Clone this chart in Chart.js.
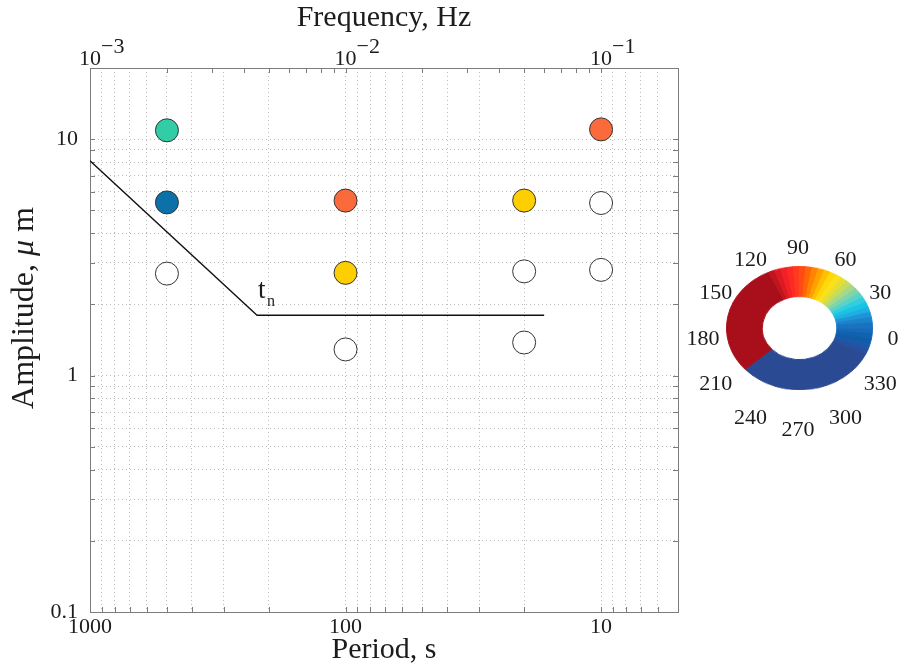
<!DOCTYPE html>
<html><head><meta charset="utf-8">
<script src="https://cdn.jsdelivr.net/npm/chart.js@4.4.1/dist/chart.umd.min.js"></script>
<style>
html,body{margin:0;padding:0;background:#fff;}
#wrap{position:relative;width:901px;height:668px;overflow:hidden;}
#main{position:absolute;left:0;top:0;}
#wheelBox{position:absolute;left:726px;top:266px;width:147px;height:147px;transform:scaleY(0.845);transform-origin:0 0;}
</style></head><body>
<div id="wrap">
<canvas id="main" width="901" height="668"></canvas>
<div id="wheelBox"><canvas id="wheel" width="147" height="147"></canvas></div>
</div>
<script>
// ---- tick values / labels ----
const periodTicks = [5,6,7,8,9,10,20,30,40,50,60,70,80,90,100,200,300,400,500,600,700,800,900,1000];
const periodLabels = [10,100,1000];
const freqTicks = [0.001,0.002,0.003,0.004,0.005,0.006,0.007,0.008,0.009,0.01,0.02,0.03,0.04,0.05,0.06,0.07,0.08,0.09,0.1,0.2];
const freqLabelValues = [0.001,0.01,0.1];
const freqLabelExps = ['\u22123','\u22122','\u22121'];
const ampTicks = [0.1,0.2,0.3,0.4,0.5,0.6,0.7,0.8,0.9,1,2,3,4,5,6,7,8,9,10,20];
const ampLabels = [0.1,1,10];

// ---- measured points ----
const pointPeriod = [500, 500, 500, 100, 100, 100, 20, 20, 20, 10, 10, 10];
const pointAmp    = [10.9, 5.4, 2.7, 5.5, 2.72, 1.29, 5.5, 2.76, 1.38, 11.0, 5.37, 2.8];
const pointFill   = ['#32cca7','#0b71a8','#ffffff','#fa6a3a','#fdcf00','#ffffff','#fdcf00','#ffffff','#ffffff','#fa6a3a','#ffffff','#ffffff'];

// ---- threshold line t_n ----
const linePeriod = [1000, 222, 16.7];
const lineAmp    = [8.1, 1.8, 1.8];

// ---- azimuth colour wheel (counter-clockwise from 0 deg) ----
const wheelSpan  = [5,5,5,5,5,5,5,5,5,5,5,5,5,5,5,5,5,5,5,5,5,5,5,107,113,5,5,5,5,5];
const wheelColor = ['#1a72c0','#1b82cc','#1f95d8','#1fb0e2','#18c4e6','#30cede','#5ad2c8','#80d4aa','#a6d88a','#c8dc5a','#e6de30','#fbe01a','#ffd80a','#ffc000','#ffa200','#ff8400','#ff6608','#ff4c14','#ff3a1e','#fd2a24','#f22028','#dc1a24','#c0141e','#a80f1a','#2a4a94','#2650a0','#1c58a8','#0f5ca8','#1162b0','#166ab8'];
const wheelLabelAngles = [0,30,60,90,120,150,180,210,240,270,300,330];

const FONT = "'Liberation Serif','Times New Roman',serif";
const TXT = '#1c1c1c';
const GRID = '#bcbcbc';
const AXIS = '#7c7c7c';

function fixedTicks(values){ return s => { s.ticks = values.map(v => ({value: v})); }; }

const decor = {
  id: 'decor',
  beforeDatasetsDraw(chart){
    const {ctx, chartArea: a, scales} = chart;
    ctx.save();
    ctx.strokeStyle = AXIS; ctx.lineWidth = 1; ctx.setLineDash([]);
    const T = 5;
    ctx.beginPath();
    periodTicks.forEach(v => { const x = Math.round(scales.x.getPixelForValue(v)) + 0.5; ctx.moveTo(x, a.bottom); ctx.lineTo(x, a.bottom - T); });
    freqTicks.forEach(v => { const x = Math.round(scales.x2.getPixelForValue(v)) + 0.5; ctx.moveTo(x, a.top); ctx.lineTo(x, a.top + T); });
    ampTicks.forEach(v => { const y = Math.round(scales.y.getPixelForValue(v)) + 0.5; ctx.moveTo(a.left, y); ctx.lineTo(a.left + T, y); ctx.moveTo(a.right, y); ctx.lineTo(a.right - T, y); });
    ctx.stroke();
    ctx.strokeRect(Math.round(a.left) + 0.5, Math.round(a.top) + 0.5, Math.round(a.right - a.left), Math.round(a.bottom - a.top));
    ctx.restore();
  },
  afterDraw(chart){
    const {ctx, scales} = chart;
    ctx.save();
    ctx.fillStyle = TXT;
    // top frequency labels 10^-n
    ctx.font = '22px ' + FONT;
    ctx.textBaseline = 'alphabetic';
    freqLabelValues.forEach((v, i) => {
      const x = scales.x2.getPixelForValue(v);
      const w = ctx.measureText('10').width;
      ctx.textAlign = 'center';
      ctx.fillText('10', x, 65);
      ctx.textAlign = 'left';
      ctx.fillText(freqLabelExps[i], x + w / 2, 53);
    });
    // y axis title
    ctx.save();
    ctx.translate(25, 308);
    ctx.rotate(-Math.PI / 2);
    ctx.textBaseline = 'middle';
    ctx.textAlign = 'left';
    const f1 = '32px ' + FONT, f2 = 'italic 32px ' + FONT;
    const p1 = 'Amplitude, ', p2 = '\u03bc', p3 = ' m';
    ctx.font = f1; const w1 = ctx.measureText(p1).width, w3 = ctx.measureText(p3).width;
    ctx.font = f2; const w2 = ctx.measureText(p2).width;
    let sx = -(w1 + w2 + w3) / 2;
    ctx.font = f1; ctx.fillText(p1, sx, 0); sx += w1;
    ctx.font = f2; ctx.fillText(p2, sx, 0); sx += w2;
    ctx.font = f1; ctx.fillText(p3, sx, 0);
    ctx.restore();
    // t_n label at the knee of the line
    const kx = scales.x.getPixelForValue(linePeriod[1]);
    const ky = scales.y.getPixelForValue(lineAmp[1]);
    ctx.textAlign = 'left'; ctx.textBaseline = 'alphabetic';
    ctx.font = '27px ' + FONT; ctx.fillText('t', kx + 1, ky - 17);
    ctx.font = '16px ' + FONT; ctx.fillText('n', kx + 10, ky - 9);
    // colour wheel labels
    ctx.font = '22px ' + FONT;
    ctx.textAlign = 'center'; ctx.textBaseline = 'middle';
    const cx = 798, cy = 339, rx = 95, ry = 91;
    wheelLabelAngles.forEach(a => {
      const r = a * Math.PI / 180;
      ctx.fillText(String(a), cx + rx * Math.cos(r), cy - ry * Math.sin(r));
    });
    ctx.restore();
  }
};

new Chart(document.getElementById('main'), {
  type: 'scatter',
  data: {
    datasets: [
      {
        label: 'points',
        data: pointPeriod.map((p, i) => ({x: p, y: pointAmp[i]})),
        backgroundColor: pointFill,
        borderColor: '#333333',
        borderWidth: 1,
        pointRadius: 11.5,
        order: 1
      },
      {
        label: 't_n',
        data: linePeriod.map((p, i) => ({x: p, y: lineAmp[i]})),
        showLine: true,
        borderColor: '#111111',
        borderWidth: 1.3,
        pointRadius: 0,
        fill: false,
        order: 2
      }
    ]
  },
  options: {
    responsive: false,
    animation: false,
    events: [],
    layout: {padding: {left: 0, right: 223, top: 0, bottom: 0}},
    plugins: {legend: {display: false}, tooltip: {enabled: false}},
    scales: {
      x: {
        type: 'logarithmic', position: 'bottom', reverse: true, min: 5, max: 1000,
        afterBuildTicks: fixedTicks(periodTicks),
        afterFit: s => { s.height = 56; },
        grid: {color: GRID, lineWidth: 1, drawTicks: false},
        border: {display: false, dash: [1, 3]},
        ticks: {autoSkip: false, maxRotation: 0, padding: 2, color: TXT, font: {family: FONT, size: 22},
          callback: v => periodLabels.includes(v) ? String(v) : ''},
        title: {display: true, text: 'Period, s', color: TXT, font: {family: FONT, size: 30}, padding: {top: 0, bottom: 0}}
      },
      x2: {
        type: 'logarithmic', position: 'top', min: 0.001, max: 0.2, display: true,
        afterBuildTicks: fixedTicks(freqTicks),
        afterFit: s => { s.height = 68; },
        grid: {display: false, drawTicks: false},
        border: {display: false},
        ticks: {display: false},
        title: {display: true, text: 'Frequency, Hz', color: TXT, font: {family: FONT, size: 30}, padding: {top: 0, bottom: 0}}
      },
      y: {
        type: 'logarithmic', position: 'left', min: 0.1, max: 20,
        afterBuildTicks: fixedTicks(ampTicks),
        afterFit: s => { s.width = 90; },
        grid: {color: GRID, lineWidth: 1, drawTicks: false},
        border: {display: false, dash: [1, 3]},
        ticks: {autoSkip: false, padding: 12, color: TXT, font: {family: FONT, size: 22},
          callback: v => ampLabels.includes(v) ? String(v) : ''}
      }
    }
  },
  plugins: [decor]
});

new Chart(document.getElementById('wheel'), {
  type: 'doughnut',
  data: {
    datasets: [{
      data: wheelSpan.slice().reverse(),
      backgroundColor: wheelColor.slice().reverse(),
      borderColor: wheelColor.slice().reverse(),
      borderWidth: 1,
      hoverOffset: 0,
      offset: 0
    }]
  },
  options: {
    responsive: false,
    animation: false,
    events: [],
    rotation: 90,
    cutout: '51%',
    layout: {padding: 0},
    plugins: {legend: {display: false}, tooltip: {enabled: false}}
  }
});
</script>
</body></html>
